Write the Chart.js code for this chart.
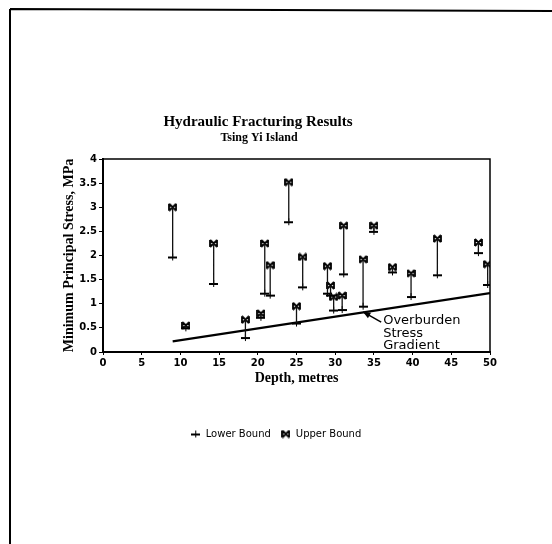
<!DOCTYPE html>
<html>
<head>
<meta charset="utf-8">
<script src="https://cdn.jsdelivr.net/npm/chart.js@4"></script>
<style>
  html, body { margin: 0; padding: 0; background: #fff; }
  #wrap { position: relative; width: 552px; height: 544px; }
</style>
</head>
<body>
<div id="wrap"><canvas id="chart" width="552" height="544"></canvas></div>
<script>
// Test data (depth in metres, stress in MPa)
const depths = [9.0, 10.7, 14.3, 18.4, 20.4, 20.9, 21.6, 24.0, 25.0, 25.8, 29.0, 29.4, 29.8, 30.9, 31.1, 33.6, 35.0, 37.4, 39.8, 43.2, 48.5, 49.7];
const lowerBound = [1.97, 0.50, 1.42, 0.30, 0.72, 1.22, 1.18, 2.70, 0.60, 1.35, 1.22, 1.18, 0.87, 0.88, 1.62, 0.95, 2.50, 1.66, 1.15, 1.60, 2.06, 1.40];
const upperBound = [3.00, 0.55, 2.25, 0.67, 0.80, 2.25, 1.80, 3.52, 0.95, 1.97, 1.78, 1.38, 1.14, 1.17, 2.62, 1.92, 2.62, 1.76, 1.63, 2.35, 2.27, 1.82];

// Overburden stress gradient end points
const overburdenDepth = [9, 50];
const overburdenStress = [0.22, 1.22];

const xTicks = [0, 5, 10, 15, 20, 25, 30, 35, 40, 45, 50];
const yTicks = [0, 0.5, 1, 1.5, 2, 2.5, 3, 3.5, 4];

// marker images
function plusMarker() {
  const c = document.createElement("canvas");
  c.width = 9; c.height = 9;
  const g = c.getContext("2d");
  g.fillStyle = "#000";
  g.fillRect(0, 4, 9, 2);
  g.fillRect(4, 1, 1, 7);
  return c;
}
function bowtieMarker() {
  const c = document.createElement("canvas");
  c.width = 9; c.height = 9;
  const g = c.getContext("2d");
  g.strokeStyle = "#000";
  g.lineWidth = 1.8;
  g.beginPath();
  g.moveTo(1, 1); g.lineTo(8, 8);
  g.moveTo(8, 1); g.lineTo(1, 8);
  g.moveTo(1, 1); g.lineTo(1, 8);
  g.moveTo(8, 1); g.lineTo(8, 8);
  g.stroke();
  return c;
}

const connectors = [];
depths.forEach((d, i) => {
  connectors.push({ x: d, y: lowerBound[i] });
  connectors.push({ x: d, y: upperBound[i] });
  connectors.push({ x: d, y: null });
});

const titleFont = "'Liberation Serif', serif";

const decor = {
  id: "decor",
  beforeDraw(chart) {
    const ctx = chart.ctx;
    ctx.save();
    ctx.strokeStyle = "#000";
    ctx.lineWidth = 2;
    ctx.beginPath();
    ctx.moveTo(10, 9);
    ctx.lineTo(552, 11);
    ctx.moveTo(10, 9);
    ctx.lineTo(10, 544);
    ctx.stroke();
    ctx.restore();
  },
  afterDraw(chart) {
    const { ctx, chartArea: a, scales } = chart;
    ctx.save();
    // frame top & right
    ctx.strokeStyle = "#000";
    ctx.lineWidth = 1.5;
    ctx.beginPath();
    ctx.moveTo(a.left, a.top);
    ctx.lineTo(a.right, a.top);
    ctx.lineTo(a.right, a.bottom);
    ctx.stroke();

    // titles
    ctx.fillStyle = "#000";
    ctx.textAlign = "center";
    ctx.textBaseline = "middle";
    ctx.font = "bold 15px " + titleFont;
    ctx.fillText("Hydraulic Fracturing Results", 258, 122);
    ctx.font = "bold 12px " + titleFont;
    ctx.fillText("Tsing Yi Island", 259, 138);

    // annotation
    const x = scales.x, y = scales.y;
    const tx = x.getPixelForValue(36.2);
    const ty = y.getPixelForValue(0.66);
    ctx.textAlign = "left";
    ctx.font = "13px 'DejaVu Sans', sans-serif";
    ctx.fillText("Overburden", tx, ty);
    ctx.fillText("Stress", tx, ty + 13);
    ctx.fillText("Gradient", tx, ty + 25);

    const ax = x.getPixelForValue(33.6), ay = y.getPixelForValue(0.83);
    const bx = tx - 2, by = ty + 2;
    ctx.lineWidth = 1.5;
    ctx.beginPath();
    ctx.moveTo(bx, by);
    ctx.lineTo(ax, ay);
    ctx.stroke();
    const ang = Math.atan2(ay - by, ax - bx);
    ctx.beginPath();
    ctx.moveTo(ax, ay);
    ctx.lineTo(ax - 8 * Math.cos(ang - 0.4), ay - 8 * Math.sin(ang - 0.4));
    ctx.lineTo(ax - 8 * Math.cos(ang + 0.4), ay - 8 * Math.sin(ang + 0.4));
    ctx.closePath();
    ctx.fill();
    ctx.restore();
  }
};

new Chart(document.getElementById("chart"), {
  type: "scatter",
  data: {
    datasets: [
      {
        label: "connectors",
        data: connectors,
        showLine: true,
        spanGaps: false,
        borderColor: "#111",
        borderWidth: 1.3,
        pointRadius: 0,
        pointHoverRadius: 0,
      },
      {
        label: "overburden",
        data: overburdenDepth.map((d, i) => ({ x: d, y: overburdenStress[i] })),
        showLine: true,
        borderColor: "#000",
        borderWidth: 2.2,
        pointRadius: 0,
        pointHoverRadius: 0,
      },
      {
        label: "Lower Bound",
        data: depths.map((d, i) => ({ x: d, y: lowerBound[i] })),
        pointStyle: plusMarker(),
        borderColor: "#000",
        backgroundColor: "#000",
      },
      {
        label: "Upper Bound",
        data: depths.map((d, i) => ({ x: d, y: upperBound[i] })),
        pointStyle: bowtieMarker(),
        borderColor: "#000",
        backgroundColor: "#000",
      },
    ],
  },
  options: {
    responsive: false,
    animation: false,
    layout: { padding: { top: 159, left: 62, right: 62, bottom: 95 } },
    plugins: {
      tooltip: { enabled: false },
      legend: {
        position: "bottom",
        labels: {
          usePointStyle: true,
          color: "#000",
          padding: 10,
          font: { family: "'DejaVu Sans', sans-serif", size: 10 },
          filter: (item) => item.text === "Lower Bound" || item.text === "Upper Bound",
        },
      },
    },
    scales: {
      x: {
        type: "linear",
        min: 0,
        max: 50,
        afterBuildTicks: (s) => { s.ticks = xTicks.map((v) => ({ value: v })); },
        afterFit: (s) => { s.height = 67; },
        border: { color: "#000", width: 2 },
        grid: { drawOnChartArea: false, tickLength: 3, color: "#000", lineWidth: 1 },
        ticks: {
          color: "#000",
          padding: 2,
          maxRotation: 0,
          callback: (v) => String(v),
          font: { family: "'DejaVu Sans', sans-serif", size: 10, weight: "bold" },
        },
        title: {
          display: true,
          text: "Depth, metres",
          color: "#000",
          font: { family: titleFont, size: 14, weight: "bold" },
          padding: { top: 0, bottom: 32 },
        },
      },
      y: {
        min: 0,
        max: 4,
        afterBuildTicks: (s) => { s.ticks = yTicks.map((v) => ({ value: v })); },
        afterFit: (s) => { s.width = 41; },
        border: { color: "#000", width: 2 },
        grid: { drawOnChartArea: false, tickLength: 4, color: "#000", lineWidth: 1 },
        ticks: {
          color: "#000",
          padding: 2,
          callback: (v) => String(v),
          font: { family: "'DejaVu Sans', sans-serif", size: 10, weight: "bold" },
        },
        title: {
          display: true,
          text: "Minimum Principal Stress, MPa",
          color: "#000",
          font: { family: titleFont, size: 14, weight: "bold", lineHeight: 1 },
          padding: { top: 0, bottom: 0 },
        },
      },
    },
  },
  plugins: [decor],
});
</script>
</body>
</html>
